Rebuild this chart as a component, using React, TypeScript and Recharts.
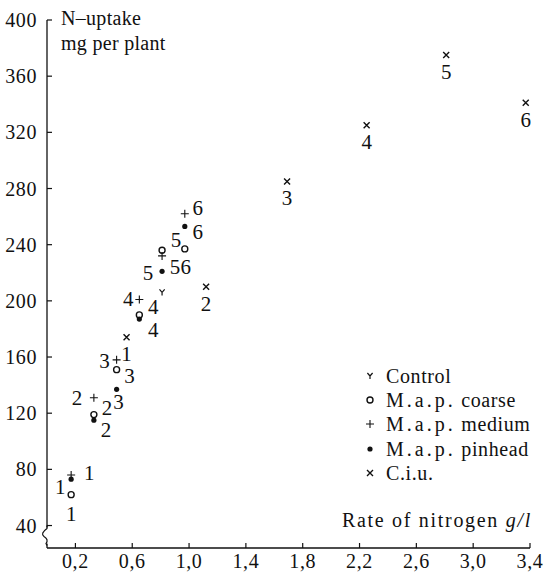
import { ScatterChart, Scatter, XAxis, YAxis } from 'recharts'

// N-uptake per plant against rate of nitrogen, five fertiliser forms

const xTicks = [0.2, 0.6, 1.0, 1.4, 1.8, 2.2, 2.6, 3.0, 3.4]
const yTicks = [40, 80, 120, 160, 200, 240, 280, 320, 360, 400]

const pointNames = ['1', '2', '3', '4', '5', '6']

const controlRates = [0.81]
const controlUptake = [206]

const mapRates = [0.17, 0.33, 0.49, 0.65, 0.81, 0.97]
const coarseUptake = [62, 119, 151, 190, 236, 237]
const mediumUptake = [76, 131, 158, 201, 232, 262]
const pinheadUptake = [73, 115, 137, 187, 221, 253]

const ciuRates = [0.56, 1.12, 1.69, 2.25, 2.81, 3.37]
const ciuUptake = [174, 210, 285, 325, 375, 341]

// where each number sits next to its marker (px from the marker)
const coarseLabelAt = [[0, 19], [13, -7], [13, 6], [14, -8], [14, -10], [1, 18]]
const mediumLabelAt = [[18, -2], [-17, 0], [-12, 1], [-11, 0], [13, 11], [13, -6]]
const pinheadLabelAt = [[-11, 8], [12, 10], [2, 13], [14, 11], [-14, 2], [13, 6]]
const ciuLabelAt = [[0, 17], [0, 17], [0, 17], [0, 17], [0, 17], [0, 17]]

const FONT = 'Liberation Serif, DejaVu Serif, serif'
const INK = '#111'
const SIZE = 20

type Kind = 'control' | 'coarse' | 'medium' | 'pinhead' | 'ciu'

interface Pt {
  x: number
  y: number
  name: string
  at: number[]
}

function build(rates: number[], values: number[], names: string[], at: number[][]): Pt[] {
  return values.map((v, i) => ({ x: rates[i], y: v, name: names[i] ?? '', at: at[i] ?? [0, 0] }))
}

function Marker({ kind, cx, cy }: { kind: Kind; cx: number; cy: number }) {
  switch (kind) {
    case 'control':
      return (
        <path
          d={`M${cx - 2.6},${cy - 3} L${cx},${cy} L${cx + 2.6},${cy - 3} M${cx},${cy} L${cx},${cy + 3}`}
          stroke={INK}
          strokeWidth={1.2}
          fill="none"
        />
      )
    case 'coarse':
      return <circle cx={cx} cy={cy} r={3} fill="#fff" stroke={INK} strokeWidth={1.4} />
    case 'medium':
      return (
        <path
          d={`M${cx - 4},${cy} H${cx + 4} M${cx},${cy - 4} V${cy + 4}`}
          stroke={INK}
          strokeWidth={1.1}
          fill="none"
        />
      )
    case 'pinhead':
      return <circle cx={cx} cy={cy} r={2.6} fill={INK} />
    default:
      return (
        <path
          d={`M${cx - 3},${cy - 3} L${cx + 3},${cy + 3} M${cx + 3},${cy - 3} L${cx - 3},${cy + 3}`}
          stroke={INK}
          strokeWidth={1.4}
          fill="none"
        />
      )
  }
}

function pointShape(kind: Kind) {
  return (props: any) => {
    const { cx, cy, payload } = props
    if (cx == null || cy == null) return <g />
    const p = payload as Pt
    return (
      <g>
        <Marker kind={kind} cx={cx} cy={cy} />
        {p.name && (
          <text
            x={cx + p.at[0]}
            y={cy + p.at[1]}
            dy={7}
            textAnchor="middle"
            fontFamily={FONT}
            fontSize={SIZE + 1}
            fill={INK}
          >
            {p.name}
          </text>
        )}
      </g>
    )
  }
}

function XTick({ x, y, payload }: any) {
  return (
    <g>
      <line x1={x} y1={y} x2={x} y2={y - 5} stroke={INK} strokeWidth={1.2} />
      <text x={x} y={y + 20} textAnchor="middle" fontFamily={FONT} fontSize={SIZE} fill={INK} letterSpacing={0.6}>
        {String(payload.value.toFixed(1)).replace('.', ',')}
      </text>
    </g>
  )
}

function YTick({ x, y, payload }: any) {
  const isBottom = payload.value === yTicks[0]
  return (
    <g>
      <line x1={x} y1={y} x2={x + 5} y2={y} stroke={INK} strokeWidth={1.2} />
      {isBottom && (
        <g>
          <rect x={x - 2} y={y + 2} width={4} height={16} fill="#fff" />
          <path
            d={`M${x},${y} L${x},${y + 3} Q${x - 7},${y + 8} ${x - 3},${y + 11} Q${x + 2},${y + 14} ${x - 1},${y + 18} L${x},${y + 20}`}
            stroke={INK}
            strokeWidth={1.2}
            fill="none"
          />
        </g>
      )}
      <text x={x - 10} y={y} dy={7} textAnchor="end" fontFamily={FONT} fontSize={SIZE} fill={INK} letterSpacing={0.6}>
        {payload.value}
      </text>
    </g>
  )
}

const legendItems: { kind: Kind; prefix: string; label: string }[] = [
  { kind: 'control', prefix: '', label: 'Control' },
  { kind: 'coarse', prefix: 'M.a.p.', label: 'coarse' },
  { kind: 'medium', prefix: 'M.a.p.', label: 'medium' },
  { kind: 'pinhead', prefix: 'M.a.p.', label: 'pinhead' },
  { kind: 'ciu', prefix: '', label: 'C.i.u.' },
]

export default function App() {
  const control = build(controlRates, controlUptake, [], [])
  const coarse = build(mapRates, coarseUptake, pointNames, coarseLabelAt)
  const medium = build(mapRates, mediumUptake, pointNames, mediumLabelAt)
  const pinhead = build(mapRates, pinheadUptake, pointNames, pinheadLabelAt)
  const ciu = build(ciuRates, ciuUptake, pointNames, ciuLabelAt)

  const textStyle = { fontFamily: FONT, fontSize: SIZE, color: INK, letterSpacing: 0.6, whiteSpace: 'nowrap' as const }

  return (
    <div style={{ position: 'absolute', left: 0, top: 0, width: 549, height: 575, background: '#fff' }}>
      <ScatterChart width={549} height={575} margin={{ top: 20, right: 19, bottom: 0, left: 0 }}>
        <XAxis
          type="number"
          dataKey="x"
          domain={[0, 3.4]}
          ticks={xTicks}
          interval={0}
          height={27}
          tickSize={0}
          tickMargin={0}
          tickLine={false}
          axisLine={{ stroke: INK, strokeWidth: 1.3 }}
          tick={<XTick />}
        />
        <YAxis
          type="number"
          dataKey="y"
          domain={[24, 400]}
          ticks={yTicks}
          interval={0}
          width={47}
          tickSize={0}
          tickMargin={0}
          tickLine={false}
          axisLine={{ stroke: INK, strokeWidth: 1.3 }}
          tick={<YTick />}
        />
        <Scatter data={control} shape={pointShape('control')} isAnimationActive={false} />
        <Scatter data={coarse} shape={pointShape('coarse')} isAnimationActive={false} />
        <Scatter data={medium} shape={pointShape('medium')} isAnimationActive={false} />
        <Scatter data={pinhead} shape={pointShape('pinhead')} isAnimationActive={false} />
        <Scatter data={ciu} shape={pointShape('ciu')} isAnimationActive={false} />
      </ScatterChart>

      <div style={{ ...textStyle, position: 'absolute', left: 61, top: 6, lineHeight: '25px', letterSpacing: 0.3 }}>
        N–uptake
        <br />
        mg per plant
      </div>

      <div style={{ ...textStyle, position: 'absolute', right: 17, top: 507, lineHeight: '26px', letterSpacing: 1.7 }}>
        Rate of nitrogen <i>g/l</i>
      </div>

      <div style={{ position: 'absolute', left: 362, top: 364 }}>
        {legendItems.map((item) => (
          <div key={item.kind} style={{ display: 'flex', alignItems: 'center', height: 24.2 }}>
            <svg width={16} height={12} style={{ marginRight: 8 }}>
              <Marker kind={item.kind} cx={8} cy={6} />
            </svg>
            <span style={{ ...textStyle, lineHeight: '24px' }}>
              {item.prefix && <span style={{ letterSpacing: 3 }}>{item.prefix}</span>}
              {item.prefix ? ' ' : ''}
              {item.label}
            </span>
          </div>
        ))}
      </div>
    </div>
  )
}
